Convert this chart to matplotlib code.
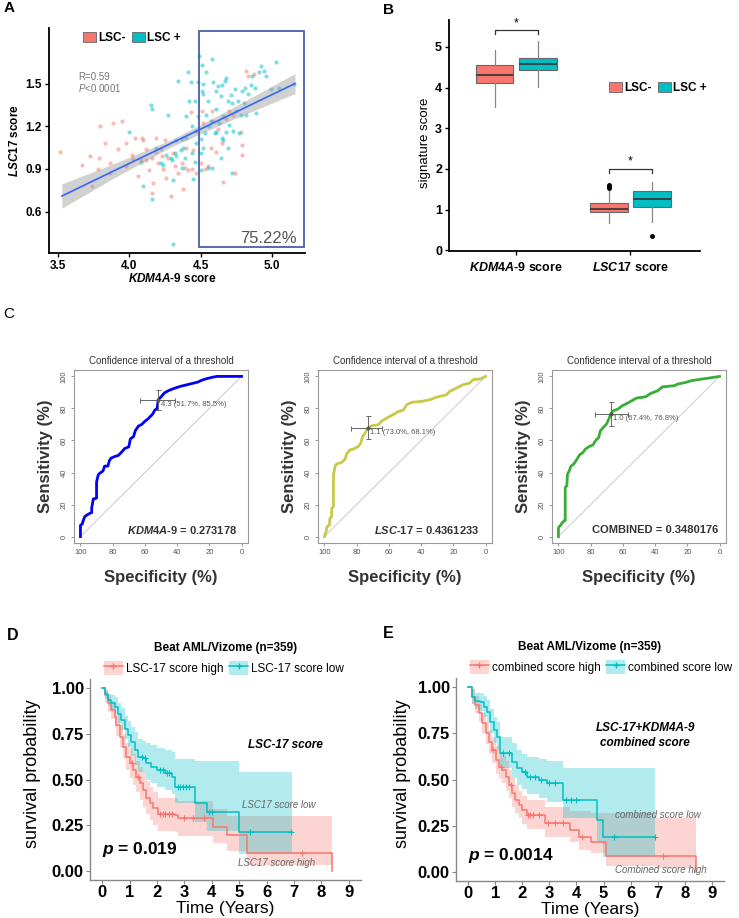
import numpy as np
import matplotlib
matplotlib.use("Agg")
import matplotlib.pyplot as plt
from matplotlib.patches import Patch, Rectangle
from matplotlib.lines import Line2D

plt.rcParams["font.family"] = ["Liberation Sans", "DejaVu Sans"]
plt.rcParams["mathtext.fontset"] = "custom"
plt.rcParams["mathtext.it"] = "Liberation Sans:italic:bold"
plt.rcParams["mathtext.rm"] = "Liberation Sans:bold"
plt.rcParams["mathtext.bf"] = "Liberation Sans:bold"
plt.rcParams["mathtext.sf"] = "Liberation Sans:italic"

RED = "#F8766D"
TEAL = "#00BFC4"

# -----------------------
# data: panel A (scatter)
# -----------------------
neg_x = [3.52, 3.67, 3.74, 3.78, 3.80, 3.79, 3.83, 3.87, 3.87, 3.95, 3.98, 3.98, 4.02, 4.03,
         4.04, 4.06, 4.09, 4.10, 4.12, 4.12, 4.14, 4.16, 4.16, 4.17, 4.19, 4.19, 4.20, 4.22,
         4.23, 4.24, 4.25, 4.26, 4.27, 4.29, 4.31, 4.32, 4.34, 4.37, 4.38, 4.39, 4.41, 4.43,
         4.44, 4.45, 4.47, 4.51, 4.52, 4.53, 4.55, 4.57, 4.59, 4.61, 4.62, 4.66, 4.68, 4.70,
         4.73, 4.74, 4.78, 4.79, 4.79, 4.82, 4.83, 4.87, 3.89, 3.73, 3.92, 4.08, 4.40, 4.50,
         4.58, 4.65]
neg_y = [1.02, 0.93, 0.78, 0.90, 1.20, 0.98, 1.08, 0.94, 0.87, 1.24, 1.08, 0.92, 1.00, 0.97,
         1.12, 0.85, 1.12, 1.10, 1.04, 0.96, 0.89, 0.98, 0.73, 0.80, 1.12, 1.02, 0.94, 1.04,
         0.99, 0.90, 1.10, 0.84, 0.98, 0.71, 1.01, 0.92, 0.87, 0.94, 0.76, 0.91, 0.89, 1.30,
         0.90, 1.03, 0.87, 1.31, 1.22, 0.90, 0.92, 1.05, 1.24, 1.02, 1.18, 0.81, 1.25, 1.31,
         1.28, 0.87, 1.16, 1.07, 1.00, 1.59, 1.55, 1.57, 1.22, 0.99, 1.04, 0.96, 1.05, 0.94,
         1.31, 1.08]
pos_x = [4.10, 4.16, 4.15, 4.16, 4.00, 4.08, 4.19, 4.22, 4.24, 4.26, 4.27, 4.29, 4.30, 4.31,
         4.32, 4.33, 4.34, 4.36, 4.37, 4.38, 4.39, 4.40, 4.41, 4.42, 4.43, 4.44, 4.44, 4.45,
         4.46, 4.47, 4.47, 4.48, 4.49, 4.50, 4.50, 4.51, 4.52, 4.52, 4.53, 4.54, 4.54, 4.55,
         4.55, 4.56, 4.57, 4.58, 4.58, 4.59, 4.60, 4.61, 4.61, 4.62, 4.63, 4.64, 4.64, 4.65,
         4.65, 4.66, 4.67, 4.68, 4.68, 4.69, 4.69, 4.70, 4.71, 4.72, 4.72, 4.73, 4.74, 4.75,
         4.76, 4.77, 4.78, 4.79, 4.80, 4.81, 4.82, 4.83, 4.85, 4.86, 4.88, 4.89, 4.91, 4.92,
         4.94, 4.96, 4.99, 5.03, 5.05, 5.15, 4.31, 4.50, 4.52, 4.46, 4.40, 4.37, 4.48, 4.33,
         4.51, 4.61, 4.66]
pos_y = [0.78, 0.69, 1.35, 1.32, 1.16, 0.95, 1.05, 0.94, 0.93, 1.00, 1.28, 0.98, 0.96, 0.82,
         1.01, 0.99, 1.52, 1.03, 0.91, 1.05, 0.98, 1.27, 1.58, 1.38, 1.51, 1.20, 1.01, 0.83,
         1.38, 1.08, 1.17, 1.51, 1.69, 1.01, 0.89, 1.45, 1.50, 1.43, 1.15, 1.28, 1.58, 0.91,
         1.38, 1.20, 1.24, 0.91, 1.67, 1.51, 1.15, 1.45, 1.32, 1.48, 1.22, 1.41, 0.98, 1.49,
         1.12, 1.27, 1.52, 1.16, 1.54, 1.05, 1.38, 1.21, 1.42, 0.87, 1.36, 1.17, 1.46, 1.31,
         1.38, 1.15, 1.28, 1.45, 1.36, 1.47, 1.28, 1.43, 1.49, 1.55, 1.47, 1.29, 1.58, 1.62,
         1.59, 1.55, 1.46, 1.65, 1.47, 1.50, 0.37, 1.11, 1.05, 0.95, 1.12, 1.11, 1.27, 1.10,
         1.63, 1.16, 1.10]
fit_x = [3.53, 3.9, 4.3, 4.7, 5.16]
fit_mid = [0.71, 0.89, 1.083, 1.277, 1.50]
fit_lo = [0.625, 0.84, 1.058, 1.237, 1.43]
fit_hi = [0.795, 0.94, 1.108, 1.317, 1.57]

# -----------------------
# data: panel B (box stats)
# -----------------------
groups_b = ["KDM4A-9", "LSC17"]
neg_q1 = [4.10, 0.93]
neg_med = [4.30, 1.01]
neg_q3 = [4.55, 1.16]
neg_lo = [3.52, 0.67]
neg_hi = [4.92, 1.50]
neg_out = [[], [1.52, 1.55, 1.58, 1.60]]
pos_q1 = [4.42, 1.05]
pos_med = [4.57, 1.27]
pos_q3 = [4.73, 1.45]
pos_lo = [4.02, 0.70]
pos_hi = [5.15, 1.68]
pos_out = [[], [0.35]]

# -----------------------
# data: panel C (ROC)
# -----------------------
roc1_spec = [100, 100, 98.8, 98.3, 97.3, 96, 94, 93, 93, 92, 90, 90, 89, 88, 86, 85, 83, 82, 81,
             78.7, 76.6, 74.5, 72.5, 70, 69, 67, 66, 64, 62, 60, 58, 55, 54, 52.4, 51.7, 49.7,
             48, 45.6, 42.4, 38, 33, 27, 25, 22, 18, 15, 0]
roc1_sens = [0, 7, 8, 10, 12.5, 13.5, 14.6, 15, 18, 23.5, 24, 34, 38.5, 39.5, 41, 44, 44, 47.5,
             49, 50, 50.6, 52.7, 55, 56, 61, 62.5, 66, 69, 70, 72, 73.5, 76.7, 78.8, 80, 85.5,
             87.5, 89.6, 91, 92.3, 93.8, 95, 96.5, 97.5, 98.5, 99.5, 100, 100]
roc2_spec = [100, 99, 98.5, 96.9, 96.5, 95.5, 95.5, 94.4, 94.4, 93.4, 92.4, 89.3, 87.2, 86.2,
             84, 82, 79, 77.5, 76.3, 74.8, 73.2, 70.7, 66.6, 64.5, 61.4, 58.4, 54.2, 51, 49,
             46, 39.8, 34.6, 30.5, 24.3, 22.3, 18.1, 14, 9.9, 7.8, 3, 0]
roc2_sens = [0, 3, 6, 7.3, 11.5, 12.5, 17.7, 18.8, 38.5, 43.8, 45.4, 46.3, 48.3, 51.7, 54.2,
             54.6, 56.3, 58.3, 62.5, 64.6, 67.7, 69.2, 69.8, 72, 74, 75.6, 78, 79, 82.3, 83.8,
             84.4, 85.4, 87, 88.5, 90.6, 92.7, 94.8, 95.8, 97.9, 98.5, 100]
roc3_spec = [100, 100, 98.5, 97.5, 96.5, 95.8, 95.8, 94.8, 94.4, 93.3, 92.3, 90.6, 88.5, 86.9,
             84.8, 83.3, 81.3, 78.5, 77.1, 75, 74, 72.3, 70.2, 68.75, 67.4, 66, 63.1, 60.4,
             58.3, 55.2, 51.5, 45.8, 42.7, 38.5, 35.4, 28, 26, 20.8, 17.7, 10, 5, 0]
roc3_sens = [0, 5.6, 7.3, 8.8, 9.8, 10, 30.6, 31.7, 39, 41, 44, 45.2, 48.3, 51, 52.5, 54.6, 56,
             57.3, 59.8, 61.9, 66, 68, 70.2, 73.3, 76.8, 78.5, 79.6, 81.7, 82.7, 84.4, 86.5,
             87.3, 89.4, 91, 93.5, 94.2, 95.2, 96.3, 97.3, 98.5, 99.2, 100]
roc_colors = ["#0000FF", "#C8C84A", "#38AE38"]
thr_spec = [51.7, 73.0, 67.4]
thr_sens = [85.5, 68.1, 76.8]
thr_spec_ci = [(62, 40.5), (82, 62.5), (77.7, 57.3)]
thr_sens_ci = [(78.8, 91.7), (60.8, 75.4), (69.2, 83.8)]
thr_labels = ["4.3 (51.7%, 85.5%)", "1.1 (73.0%, 68.1%)", "1.0 (67.4%, 76.8%)"]
roc_names = [r"$\mathit{KDM4A}$-$\mathit{9}$ = 0.273178",
             r"$\mathit{LSC}$-$\mathit{17}$ = 0.4361233",
             "COMBINED = 0.3480176"]

# -----------------------
# data: panels D/E (Kaplan-Meier)
# -----------------------
d_low_t = [0, 0.08, 0.21, 0.33, 0.45, 0.57, 0.69, 0.82, 0.94, 1.06, 1.18, 1.31, 1.49, 1.61,
           1.79, 1.98, 2.28, 2.53, 2.65, 3.38, 3.81, 4.99, 6.92]
d_low_s = [1.0, 0.97, 0.934, 0.916, 0.898, 0.861, 0.825, 0.779, 0.743, 0.706, 0.661, 0.624,
           0.615, 0.588, 0.570, 0.552, 0.533, 0.515, 0.461, 0.369, 0.324, 0.215, 0.215]
d_low_lo = [1.0, 0.94, 0.90, 0.88, 0.86, 0.81, 0.77, 0.72, 0.68, 0.63, 0.58, 0.54, 0.53, 0.50,
            0.48, 0.46, 0.44, 0.42, 0.37, 0.27, 0.22, 0.09, 0.09]
d_low_up = [1.0, 0.99, 0.97, 0.96, 0.95, 0.92, 0.89, 0.85, 0.82, 0.79, 0.76, 0.72, 0.71, 0.70,
            0.69, 0.67, 0.66, 0.65, 0.61, 0.60, 0.60, 0.54, 0.54]
d_low_cens = [1.45, 1.55, 2.1, 2.2, 2.35, 2.45, 2.75, 2.85, 2.95, 3.05, 3.15, 3.9, 4.0, 5.4, 6.9]
d_high_t = [0, 0.08, 0.21, 0.33, 0.45, 0.51, 0.63, 0.76, 0.88, 1.0, 1.12, 1.24, 1.37, 1.49,
            1.61, 1.73, 1.86, 2.04, 2.65, 2.77, 4.05, 4.54, 5.27, 8.39]
d_high_s = [1.0, 0.961, 0.916, 0.88, 0.843, 0.797, 0.734, 0.679, 0.624, 0.588, 0.552, 0.515,
            0.479, 0.442, 0.397, 0.369, 0.342, 0.311, 0.306, 0.287, 0.242, 0.196, 0.10, 0.0]
d_high_lo = [1.0, 0.92, 0.87, 0.83, 0.79, 0.74, 0.67, 0.61, 0.55, 0.51, 0.47, 0.43, 0.39, 0.35,
             0.31, 0.28, 0.25, 0.22, 0.21, 0.19, 0.15, 0.11, 0.03, 0.0]
d_high_up = [1.0, 0.99, 0.96, 0.93, 0.90, 0.86, 0.80, 0.75, 0.70, 0.67, 0.64, 0.60, 0.57, 0.53,
             0.49, 0.46, 0.43, 0.40, 0.40, 0.38, 0.34, 0.30, 0.30, 0.30]
d_high_cens = [1.1, 1.3, 2.1, 2.2, 2.3, 2.45, 2.55, 3.0, 3.3, 3.7, 7.3]

e_low_t = [0, 0.15, 0.27, 0.45, 0.58, 0.70, 0.82, 0.95, 1.07, 1.19, 1.62, 1.81, 2.0, 2.18,
           2.6, 2.9, 3.5, 4.75, 4.98, 6.9]
e_low_s = [1.0, 0.948, 0.926, 0.92, 0.894, 0.867, 0.813, 0.768, 0.732, 0.642, 0.597, 0.56,
           0.542, 0.515, 0.497, 0.48, 0.39, 0.28, 0.19, 0.19]
e_low_lo = [1.0, 0.91, 0.88, 0.87, 0.84, 0.81, 0.75, 0.70, 0.66, 0.56, 0.51, 0.47, 0.45, 0.42,
            0.40, 0.38, 0.29, 0.16, 0.08, 0.08]
e_low_up = [1.0, 0.99, 0.97, 0.97, 0.95, 0.93, 0.88, 0.84, 0.81, 0.73, 0.70, 0.66, 0.64, 0.62,
            0.61, 0.60, 0.56, 0.56, 0.56, 0.56]
e_low_cens = [1.3, 1.5, 2.1, 2.3, 2.45, 2.7, 3.0, 3.2, 3.6, 3.8, 4.0, 5.4, 6.9]
e_high_t = [0, 0.15, 0.27, 0.39, 0.51, 0.64, 0.76, 0.88, 1.01, 1.13, 1.25, 1.38, 1.50, 1.62,
            1.74, 1.87, 1.99, 2.18, 2.85, 3.75, 4.1, 4.55, 5.1, 6.9, 8.4]
e_high_s = [1.0, 0.948, 0.903, 0.858, 0.804, 0.75, 0.705, 0.66, 0.606, 0.57, 0.552, 0.515,
            0.47, 0.425, 0.389, 0.362, 0.335, 0.308, 0.263, 0.227, 0.19, 0.16, 0.088, 0.088, 0.0]
e_high_lo = [1.0, 0.91, 0.86, 0.81, 0.75, 0.69, 0.64, 0.59, 0.53, 0.50, 0.48, 0.44, 0.40, 0.35,
             0.32, 0.29, 0.26, 0.23, 0.19, 0.16, 0.12, 0.10, 0.03, 0.02, 0.0]
e_high_up = [1.0, 0.99, 0.95, 0.91, 0.86, 0.81, 0.77, 0.73, 0.68, 0.65, 0.63, 0.60, 0.55, 0.51,
             0.47, 0.44, 0.41, 0.39, 0.35, 0.33, 0.33, 0.32, 0.32, 0.29, 0.29]
e_high_cens = [0.9, 1.2, 1.6, 2.2, 2.3, 2.4, 2.6, 2.95, 3.2, 3.5, 4.2, 7.2]

W, H = 739, 918
fig = plt.figure(figsize=(W / 100, H / 100), dpi=100)


def add_ax(x0, y0, x1, y1):
    return fig.add_axes([x0 / W, 1 - y1 / H, (x1 - x0) / W, (y1 - y0) / H])


def ftext(x, y, s, **kw):
    fig.text(x / W, 1 - y / H, s, **kw)


# -----------------------
# A. scatter
# -----------------------
axA = add_ax(49, 28, 305, 253)
axA.scatter(neg_x, neg_y, s=9, color=RED, alpha=0.5, linewidths=0)
axA.scatter(pos_x, pos_y, s=9, color=TEAL, alpha=0.5, linewidths=0)
axA.fill_between(fit_x, fit_lo, fit_hi, color="#999999", alpha=0.45, lw=0)
axA.plot(fit_x, fit_mid, color="#3366FF", lw=1.2)
axA.add_patch(Rectangle((4.49, 0.35), 0.73, 1.52, fill=False, ec="#4a5fa8", lw=1.3, clip_on=False))
axA.set_xlim(3.44, 5.23)
axA.set_ylim(0.31, 1.89)
axA.set_xticks([3.5, 4.0, 4.5, 5.0])
axA.set_xticklabels(["3.5", "4.0", "4.5", "5.0"])
axA.set_yticks([0.6, 0.9, 1.2, 1.5])
axA.set_yticklabels(["0.6", "0.9", "1.2", "1.5"])
for sp in ["top", "right"]:
    axA.spines[sp].set_visible(False)
for sp in ["left", "bottom"]:
    axA.spines[sp].set_linewidth(1.3)
axA.tick_params(labelsize=8.5, length=3, width=1, pad=2)
for lb in axA.get_xticklabels() + axA.get_yticklabels():
    lb.set_fontweight("bold")
axA.text(0.48, -0.112, r"$\mathit{KDM4A}$-9 score", transform=axA.transAxes, ha="center",
         va="center", fontsize=8.5, fontweight="bold")
axA.text(-0.133, 0.5, r"$\mathit{LSC17}$ score", transform=axA.transAxes, ha="center",
         va="center", rotation=90, fontsize=8.5, fontweight="bold")
axA.text(3.643, 1.545, "R=0.59", fontsize=7, color="#777777", va="center")
axA.text(3.643, 1.467, r"$\mathsf{P}$<0.0001", fontsize=7, color="#777777", va="center")
axA.text(5.174, 0.41, "75.22%", fontsize=12, color="#555555", ha="right", va="center")
hA = [Patch(facecolor=RED, edgecolor="#666666", lw=0.6), Patch(facecolor=TEAL, edgecolor="#666666", lw=0.6)]
legA = axA.legend(hA, ["LSC-", "LSC +"], loc="center left", bbox_to_anchor=(0.11, 0.955),
                  ncol=2, frameon=False, fontsize=8.5, handlelength=1.1, handleheight=0.9,
                  handletextpad=0.2, columnspacing=0.5, borderpad=0)
for t in legA.get_texts():
    t.set_fontweight("bold")

# -----------------------
# B. boxplots
# -----------------------
axB = add_ax(449, 20, 700, 251)
for stats_q1, stats_med, stats_q3, stats_lo, stats_hi, stats_out, off, col in [
        (neg_q1, neg_med, neg_q3, neg_lo, neg_hi, neg_out, -0.19, RED),
        (pos_q1, pos_med, pos_q3, pos_lo, pos_hi, pos_out, 0.19, TEAL)]:
    st = [dict(q1=stats_q1[i], med=stats_med[i], q3=stats_q3[i], whislo=stats_lo[i],
               whishi=stats_hi[i], fliers=stats_out[i]) for i in range(len(groups_b))]
    axB.bxp(st, positions=[1 + off, 2 + off], widths=0.33, patch_artist=True, showcaps=False,
            boxprops=dict(facecolor=col, edgecolor="#666666", lw=0.8),
            medianprops=dict(color="#333333", lw=1.2),
            whiskerprops=dict(color="#888888", lw=0.9),
            flierprops=dict(marker="o", markerfacecolor="black", markeredgecolor="black", ms=2.5))
for xc, yb, ys in [(1, 5.41, 5.58), (2, 2.0, 2.18)]:
    axB.plot([xc - 0.19, xc - 0.19, xc + 0.19, xc + 0.19], [yb - 0.09, yb, yb, yb - 0.09],
             color="#333333", lw=0.9)
    axB.text(xc, ys, "*", ha="center", va="center", fontsize=9)
axB.set_xlim(0.41, 2.61)
axB.set_ylim(-0.02, 5.66)
axB.set_yticks([0, 1, 2, 3, 4, 5])
axB.set_xticks([1, 2])
axB.set_xticklabels([r"$\mathit{KDM4A}$-9 score", r"$\mathit{LSC17}$ score"])
for sp in ["top", "right"]:
    axB.spines[sp].set_visible(False)
for sp in ["left", "bottom"]:
    axB.spines[sp].set_linewidth(1.3)
axB.tick_params(labelsize=9, length=3, width=1, pad=2)
axB.tick_params(axis="x", labelsize=9, pad=4)
for lb in axB.get_xticklabels() + axB.get_yticklabels():
    lb.set_fontweight("bold")
axB.text(-0.096, 0.47, "signature score", transform=axB.transAxes, ha="center", va="center",
         rotation=90, fontsize=9.5)
legB = axB.legend(hA, ["LSC-", "LSC +"], loc="center left", bbox_to_anchor=(0.614, 0.706),
                  ncol=2, frameon=False, fontsize=8.5, handlelength=1.1, handleheight=0.9,
                  handletextpad=0.2, columnspacing=0.5, borderpad=0)
for t in legB.get_texts():
    t.set_fontweight("bold")

# -----------------------
# C. ROC curves
# -----------------------
roc_spec = [roc1_spec, roc2_spec, roc3_spec]
roc_sens = [roc1_sens, roc2_sens, roc3_sens]
roc_boxes = [(74, 248), (318, 492), (552, 726)]
roc_name_x = [3, 3.7, 1]
for i in range(3):
    ax = add_ax(roc_boxes[i][0], 370, roc_boxes[i][1], 543)
    ax.plot([100, 0], [0, 100], color="#d0d0d0", lw=0.8)
    ax.plot(roc_spec[i], roc_sens[i], color=roc_colors[i], lw=2)
    sx, sy = thr_spec[i], thr_sens[i]
    ax.errorbar([sx], [sy],
                xerr=[[thr_spec_ci[i][0] - sx], [sx - thr_spec_ci[i][1]]],
                yerr=[[sy - thr_sens_ci[i][0]], [thr_sens_ci[i][1] - sy]],
                fmt="o", ms=1.8, color="#555555", ecolor="#666666", elinewidth=0.7,
                capsize=1.8, capthick=0.7)
    ax.text(sx - 1.5, sy - 3.2, thr_labels[i], fontsize=5.5, color="#555555", va="center")
    ax.text(roc_name_x[i], 4, roc_names[i], fontsize=8, fontweight="bold", color="#333333",
            ha="right", va="center")
    ax.set_xlim(104, -4)
    ax.set_ylim(-4, 104)
    ax.set_xticks([100, 80, 60, 40, 20, 0])
    ax.set_yticks([0, 20, 40, 60, 80, 100])
    ax.tick_params(labelsize=5.5, labelcolor="#555555", color="#888888", length=2.5, width=0.6, pad=2)
    for lb in ax.get_yticklabels():
        lb.set_rotation(90)
        lb.set_va("center")
    for sp in ax.spines.values():
        sp.set_color("#999999")
        sp.set_linewidth(0.8)
    ax.set_title("Confidence interval of a threshold", fontsize=7, color="#333333", pad=4)
    ax.text(-0.165, 0.5, "Sensitivity (%)", transform=ax.transAxes, rotation=90, ha="center",
            va="center", fontsize=12, fontweight="bold", color="#333333")
    ax.text(0.5, -0.202, "Specificity (%)", transform=ax.transAxes, ha="center", va="center",
            fontsize=12, fontweight="bold", color="#333333")


# -----------------------
# D/E. Kaplan-Meier
# -----------------------
def km(ax, t, s, lo, up, cens, col):
    t = np.asarray(t)
    s = np.asarray(s)
    idx = np.searchsorted(t, cens, side="right") - 1
    ax.step(t, s, where="post", color=col, lw=1.1)
    ax.plot(cens, s[idx], ls="none", marker="+", ms=4, mew=0.8, color=col)


def km_panel(box, high, low, labels, note, note_xy, low_xy, high_xy, low_txt, high_txt, ptxt, lab_x):
    ax = add_ax(*box)
    ax.fill_between(high[0], high[2], high[3], step="post", color=RED, alpha=0.3, lw=0)
    ax.fill_between(low[0], low[2], low[3], step="post", color=TEAL, alpha=0.3, lw=0)
    km(ax, *high, RED)
    km(ax, *low, TEAL)
    ax.set_xlim(-0.45, 9.45)
    ax.set_ylim(-0.05, 1.05)
    ax.set_xticks(range(10))
    ax.set_yticks([0, 0.25, 0.5, 0.75, 1.0])
    ax.set_yticklabels(["0.00", "0.25", "0.50", "0.75", "1.00"])
    for sp in ["top", "right"]:
        ax.spines[sp].set_visible(False)
    for sp in ["left", "bottom"]:
        ax.spines[sp].set_color("#888888")
        ax.spines[sp].set_linewidth(1)
    ax.tick_params(labelsize=12, length=3, color="#888888", pad=1.5)
    ax.tick_params(axis="x", pad=0.5)
    for lb in ax.get_xticklabels() + ax.get_yticklabels():
        lb.set_fontweight("bold")
    ax.text(lab_x, 0.53, "survival probability", transform=ax.transAxes, rotation=90,
            ha="center", va="center", fontsize=13)
    ax.text(0.5, -0.142, "Time (Years)", transform=ax.transAxes, ha="center", va="center", fontsize=12.5)
    ax.text(note_xy[0], note_xy[1], note, fontsize=8.5, fontweight="bold", style="italic",
            ha="center", va="center", linespacing=1.3)
    ax.text(low_xy[0], low_xy[1], low_txt, fontsize=7, style="italic", color="#666666",
            ha="center", va="center")
    ax.text(high_xy[0], high_xy[1], high_txt, fontsize=7, style="italic", color="#666666",
            ha="center", va="center")
    ax.text(0, ptxt[1], ptxt[0], fontsize=12.5, fontweight="bold", ha="left", va="center")
    ax.text(0.5, 1.155, "Beat AML/Vizome (n=359)", transform=ax.transAxes, ha="center",
            va="center", fontsize=8.5, fontweight="bold")
    hs = [(Patch(facecolor=RED, alpha=0.3, lw=0), Line2D([], [], color=RED, marker="+", ms=4, lw=1.1)),
          (Patch(facecolor=TEAL, alpha=0.3, lw=0), Line2D([], [], color=TEAL, marker="+", ms=4, lw=1.1))]
    ax.legend(hs, labels, loc="center left", bbox_to_anchor=(0.03, 1.055), ncol=2, frameon=False,
              fontsize=8.5, handlelength=1.6, handleheight=1.5, handletextpad=0.25,
              columnspacing=0.5, borderpad=0)
    return ax


km_panel((90, 679, 361, 880),
         (d_high_t, d_high_s, d_high_lo, d_high_up, d_high_cens),
         (d_low_t, d_low_s, d_low_lo, d_low_up, d_low_cens),
         ["LSC-17 score high", "LSC-17 score low"], "LSC-17 score", (6.68, 0.69),
         (6.43, 0.36), (6.35, 0.045), "LSC17 score low", "LSC17 score high",
         (r"$\mathit{p}$ = 0.019", 0.115), -0.214)
km_panel((456, 678, 724, 881),
         (e_high_t, e_high_s, e_high_lo, e_high_up, e_high_cens),
         (e_low_t, e_low_s, e_low_lo, e_low_up, e_low_cens),
         ["combined score high", "combined score low"], "LSC-17+KDM4A-9\ncombined score",
         (6.54, 0.74), (7.02, 0.31), (7.1, 0.01), "combined score low", "Combined score high",
         (r"$\mathit{p}$ = 0.0014", 0.09), -0.20)

# panel letters
ftext(4, 8, "A", fontsize=11, fontweight="bold", va="center")
ftext(383, 10, "B", fontsize=11, fontweight="bold", va="center")
ftext(3, 314, "C", fontsize=11, va="center")
ftext(7, 635, "D", fontsize=11.5, fontweight="bold", va="center")
ftext(383, 633, "E", fontsize=11.5, fontweight="bold", va="center")

plt.savefig("out.png", dpi=100)
